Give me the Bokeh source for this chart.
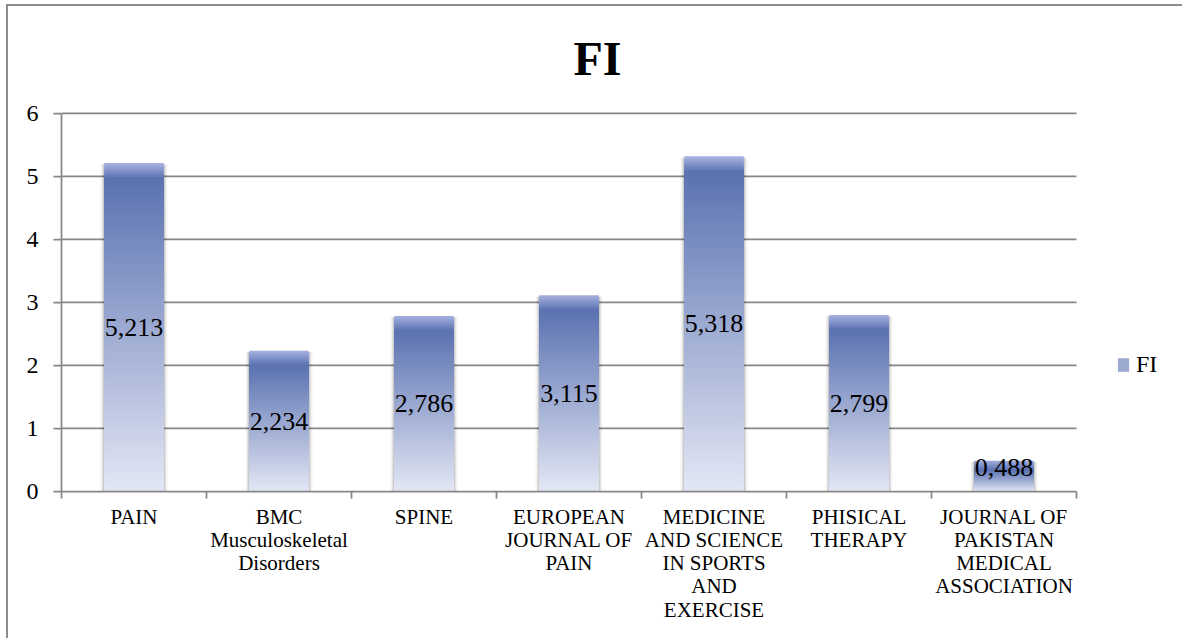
from bokeh.plotting import figure
from bokeh.models import FixedTicker, Legend, LegendItem, ColumnDataSource, Range1d
from bokeh.core.properties import value
from bokeh.embed import file_html
from bokeh.resources import INLINE

# ---- data ----
categories = [
    "PAIN",
    "BMC\nMusculoskeletal\nDisorders",
    "SPINE",
    "EUROPEAN\nJOURNAL OF\nPAIN",
    "MEDICINE\nAND SCIENCE\nIN SPORTS\nAND\nEXERCISE",
    "PHISICAL\nTHERAPY",
    "JOURNAL OF\nPAKISTAN\nMEDICAL\nASSOCIATION",
]
fi_values = [5.213, 2.234, 2.786, 3.115, 5.318, 2.799, 0.488]
y_ticks = [0, 1, 2, 3, 4, 5, 6]
series_name = "FI"
title_text = "FI"

# ---- styling / layout ----
FONT = "Liberation Serif"
TOP = (0x5b, 0x72, 0xb1)
BOTTOM = (0xe4, 0xe8, 0xf5)
HI = (0xa3, 0xae, 0xde)
BAR_W = 0.41
GRID = "#878787"
AXIS_PX = 1015          # pixel width of the category axis
FRAME_PX = 1123         # frame extends to the right edge to host the legend


def mix(a, b, t):
    t = max(0.0, min(1.0, t))
    return "#%02x%02x%02x" % tuple(int(round(a[i] + (b[i] - a[i]) * t)) for i in range(3))


def bar_color(v, y):
    hb = min(0.22, 0.3 * v)
    d = v - y
    if d < hb:
        return mix(HI, TOP, d / hb)
    return mix(BOTTOM, TOP, y / (v - hb))


ncat = len(categories)
xs = [i + 0.5 for i in range(ncat)]

# gradient slices (drawn overlapping, tallest first)
N = 120
sx, stop, scol = [], [], []
for x, v in zip(xs, fi_values):
    for k in range(N, 0, -1):
        t = v * k / N
        sx.append(x)
        stop.append(t)
        scol.append(bar_color(v, t))
slices = ColumnDataSource(dict(x=sx, top=stop, color=scol))

p = figure(width=1176, height=634, output_backend="svg", toolbar_location=None,
           x_range=Range1d(0, ncat * FRAME_PX / AXIS_PX),
           y_range=Range1d(y_ticks[0], y_ticks[-1] + 0.03),
           min_border_left=53, min_border_right=0, min_border_top=105, min_border_bottom=149)
p.margin = (4, 0, 0, 6)
p.styles = {"border-left": "2px solid #8c8c8c", "border-top": "2px solid #8c8c8c"}
p.outline_line_color = None
p.background_fill_color = "white"
p.border_fill_color = "white"

# title
p.title.text = title_text
p.title.align = "left"
p.title.vertical_align = "top"
p.title.text_font = FONT
p.title.text_font_size = "48px"
p.title.text_font_style = "bold"
p.title.text_color = "black"
p.title.standoff = 49
p.title.offset = 512

# grid lines (limited to the category axis extent)
p.xgrid.grid_line_color = None
p.ygrid.grid_line_color = None
p.segment(x0=0, x1=ncat, y0=y_ticks[1:], y1=y_ticks[1:], line_color=GRID, line_width=1.75)

# shadows
for extra, alpha in [(0.05, 0.05), (0.03, 0.07), (0.014, 0.12)]:
    p.vbar(x=xs, top=[v - 0.02 for v in fi_values], bottom=-0.05, width=BAR_W + extra,
           fill_color="black", fill_alpha=alpha, line_color=None)

bars = p.vbar(x="x", top="top", bottom=0, width=BAR_W, fill_color="color", line_color=None,
              source=slices)

# data labels
labels = [("%.3f" % v).replace(".", ",") for v in fi_values]
label_y = [max(v / 2, 0.38) for v in fi_values]
p.text(x=xs, y=label_y, text=labels, text_font=value(FONT), text_font_size="26px",
       text_align="center", text_baseline="middle", text_color="black")

# axes
xa = p.xaxis[0]
xa.bounds = (0, ncat)
xa.ticker = FixedTicker(ticks=xs, minor_ticks=list(range(ncat + 1)))
xa.major_label_overrides = {x: c for x, c in zip(xs, categories)}
xa.major_tick_out = 0
xa.major_tick_in = 0
xa.minor_tick_out = 7
xa.minor_tick_in = 0
xa.minor_tick_line_color = GRID
xa.minor_tick_line_width = 1.75
xa.axis_line_color = GRID
xa.axis_line_width = 1.75
xa.major_label_text_font = FONT
xa.major_label_text_font_size = "21px"
xa.major_label_text_color = "black"
xa.major_label_text_line_height = 0.97
xa.major_label_standoff = 6

ya = p.yaxis[0]
ya.bounds = (y_ticks[0], y_ticks[-1])
ya.ticker = FixedTicker(ticks=y_ticks)
ya.major_tick_out = 8
ya.major_tick_in = 0
ya.major_tick_line_color = GRID
ya.major_tick_line_width = 1.75
ya.minor_tick_line_color = None
ya.axis_line_color = GRID
ya.axis_line_width = 1.75
ya.major_label_text_font = FONT
ya.major_label_text_font_size = "24px"
ya.major_label_text_color = "black"
ya.major_label_standoff = 15

# legend (inside the extended frame, right of the category axis)
legend = Legend(items=[LegendItem(label=series_name, renderers=[bars], index=N // 2)],
                location=(1055, 113), orientation="vertical",
                glyph_width=14, glyph_height=17, label_standoff=6,
                label_text_font=FONT, label_text_font_size="24px", label_text_color="black",
                padding=0, margin=0, border_line_color=None, background_fill_alpha=0)
p.add_layout(legend)

open("out.html", "w").write(file_html(p, INLINE))
